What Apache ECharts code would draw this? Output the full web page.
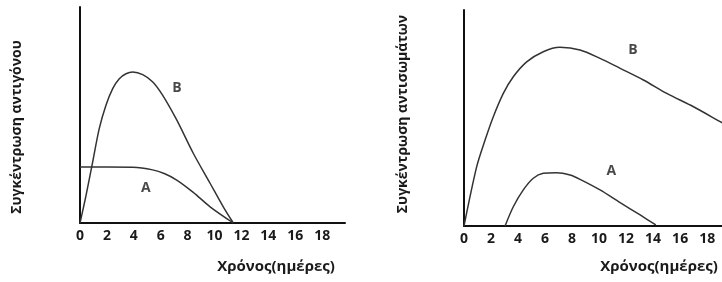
<!DOCTYPE html>
<html>
<head>
<meta charset="utf-8">
<script src="https://cdn.jsdelivr.net/npm/echarts@6/dist/echarts.min.js"></script>
<style>
  html, body { margin: 0; padding: 0; background: #fff; }
  #main { width: 722px; height: 282px; }
</style>
</head>
<body>
<div id="main"></div>
<script>
// αριστερό διάγραμμα: αντιγόνο
const antigenB = [[0, 0], [0.45, 12.8], [0.94, 28.2], [1.43, 43.7], [1.93, 54.5], [2.43, 62.2],
  [2.92, 66.8], [3.42, 69.1], [3.92, 69.9], [4.66, 68.7], [5.41, 65.3], [6.15, 59.1],
  [7.19, 47.7], [8.42, 32.3], [9.67, 18.4], [10.65, 7.5], [11.4, 0]];
const antigenA = [[0, 25.9], [2, 25.9], [3.92, 25.8], [5.4, 24.6], [6.3, 22.8], [7.19, 19.9],
  [8.42, 14.2], [9.67, 7.5], [11.4, 0]];
// δεξί διάγραμμα: αντισώματα
const antibodyB = [[0, 0], [0.94, 27.5], [1.56, 39.8], [2.17, 50.6], [2.91, 61.4],
  [3.65, 69.1], [4.64, 76], [5.87, 80.7], [7.1, 82.7], [8.59, 81.5], [10.07, 77.6],
  [11.56, 73], [13.28, 67.6], [15.01, 61.4], [16.99, 55.2], [18.96, 48.3], [19.5, 46.4]];
const antibodyA = [[3.04, 0], [3.65, 8.9], [4.39, 16.7], [5.13, 22.1], [5.87, 24.4], [6.87, 24.7],
  [7.85, 23.6], [8.59, 21.6], [10.07, 16.7], [11.56, 10.8], [13.04, 5.1], [14.2, 0.5]];
// ετικέτες καμπυλών
const leftTags = [{ value: [7.2, 62.5], name: 'B' }, { value: [4.9, 16.2], name: 'A' }];
const rightTags = [{ value: [12.5, 81.5], name: 'B' }, { value: [10.9, 25.4], name: 'A' }];
const xTitle = 'Χρόνος(ημέρες)';
const yTitleLeft = 'Συγκέντρωση αντιγόνου';
const yTitleRight = 'Συγκέντρωση αντισωμάτων';

const chart = echarts.init(document.getElementById('main'));
const font = '"Open Sans", "DejaVu Sans", sans-serif';

const xAxisBase = (idx, max) => ({
  type: 'value', gridIndex: idx, min: 0, max: max, interval: 2,
  axisLine: { show: true, lineStyle: { color: '#111', width: 2 } },
  axisTick: { show: false },
  splitLine: { show: false },
  axisLabel: { color: '#1a1a1a', fontSize: 14, fontWeight: 'bold', fontFamily: font, margin: 6, showMaxLabel: false }
});
const yAxisBase = (idx) => ({
  type: 'value', gridIndex: idx, min: 0, max: 100,
  axisLine: { show: true, lineStyle: { color: '#111', width: 2 } },
  axisTick: { show: false }, axisLabel: { show: false }, splitLine: { show: false }
});
const curve = (idx, data) => ({
  type: 'line', xAxisIndex: idx, yAxisIndex: idx, data: data,
  smooth: 0.3, symbol: 'none', lineStyle: { color: '#333', width: 1.5 }
});
const tags = (idx, data) => ({
  type: 'scatter', xAxisIndex: idx, yAxisIndex: idx, data: data, symbolSize: 0,
  label: { show: true, position: 'inside', formatter: '{b}', color: '#1a1a1a', fontSize: 14, fontWeight: 'bold', fontFamily: font }
});

chart.setOption({
  animation: false,
  grid: [
    { left: 80, top: 7, width: 265, height: 216 },
    { left: 464, top: 10, width: 258, height: 216 }
  ],
  xAxis: [xAxisBase(0, 19.7), xAxisBase(1, 19.1)],
  yAxis: [yAxisBase(0), yAxisBase(1)],
  series: [
    curve(0, antigenB), curve(0, antigenA),
    curve(1, antibodyB), curve(1, antibodyA),
    tags(0, leftTags), tags(1, rightTags)
  ],
  graphic: [
    { type: 'text', x: 17, y: 127, rotation: Math.PI / 2,
      style: { text: yTitleLeft, fill: '#1a1a1a', font: 'bold 14px ' + font, align: 'center', verticalAlign: 'middle' } },
    { type: 'text', x: 403, y: 114, rotation: Math.PI / 2,
      style: { text: yTitleRight, fill: '#1a1a1a', font: 'bold 14px ' + font, align: 'center', verticalAlign: 'middle' } },
    { type: 'text', x: 276, y: 267,
      style: { text: xTitle, fill: '#1a1a1a', font: 'bold 15px ' + font, align: 'center', verticalAlign: 'middle' } },
    { type: 'text', x: 659, y: 267,
      style: { text: xTitle, fill: '#1a1a1a', font: 'bold 15px ' + font, align: 'center', verticalAlign: 'middle' } }
  ]
});
</script>
</body>
</html>
